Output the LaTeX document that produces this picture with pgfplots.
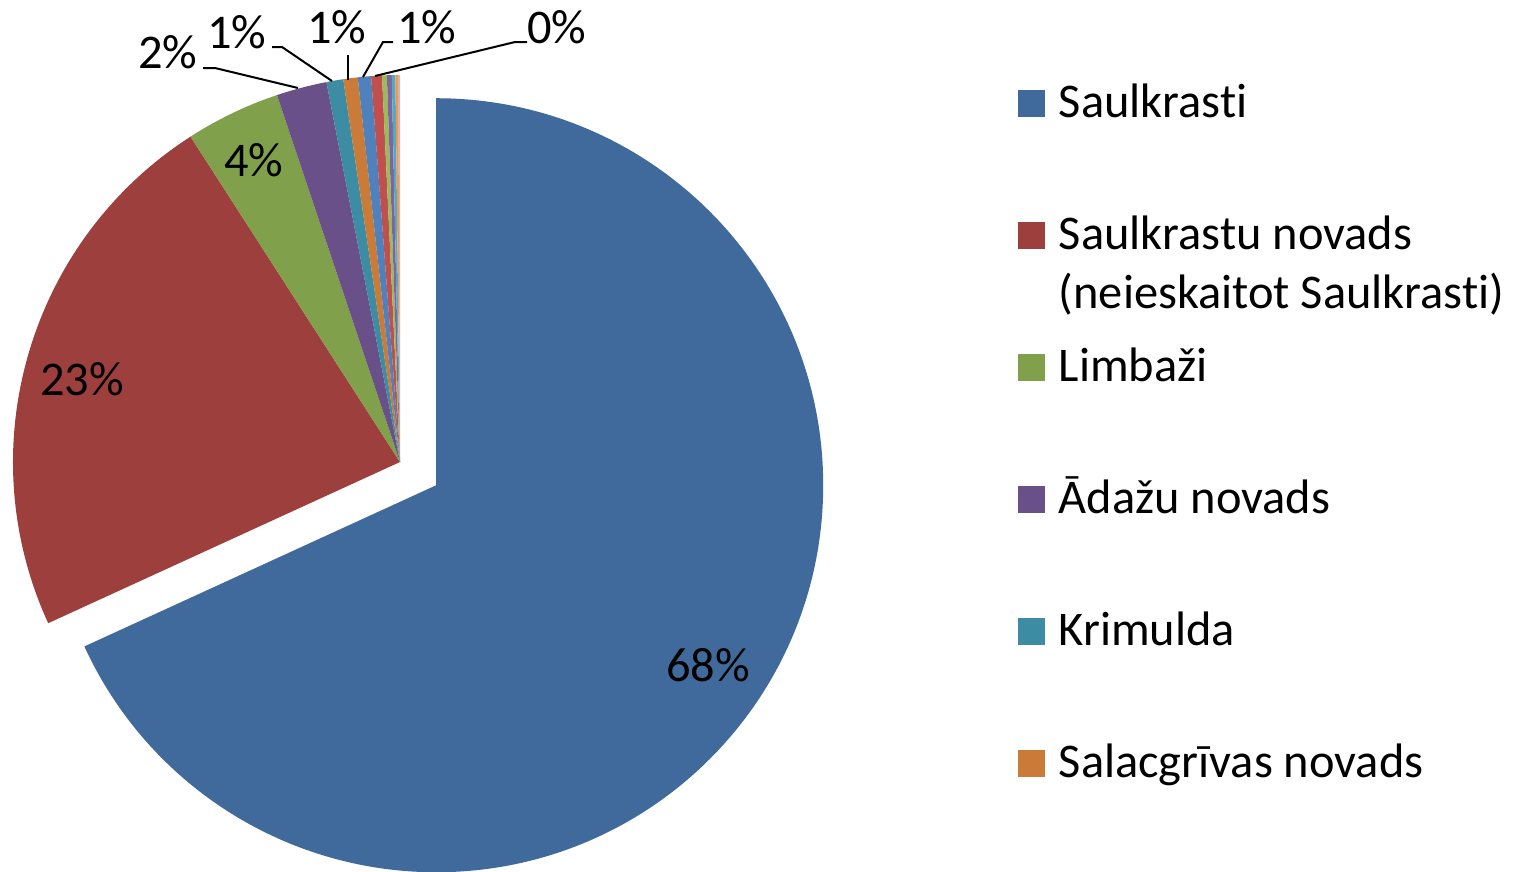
\documentclass[border=0pt]{standalone}
\usepackage{fontspec}
\setmainfont{Carlito}[Ligatures=NoCommon]
\usepackage{pgfplots}
\pgfplotsset{compat=1.18}

\definecolor{c1}{HTML}{416A9C}
\definecolor{c2}{HTML}{9D403D}
\definecolor{c3}{HTML}{80A04B}
\definecolor{c4}{HTML}{6A5088}
\definecolor{c5}{HTML}{3C8DA3}
\definecolor{c6}{HTML}{CB7B38}
\definecolor{c7}{HTML}{4F81BD}
\definecolor{c8}{HTML}{C0504D}
\definecolor{c9}{HTML}{9BBB59}
\definecolor{c10}{HTML}{8064A2}
\definecolor{c11}{HTML}{4BACC6}
\definecolor{c12}{HTML}{F79646}
\definecolor{c13}{HTML}{95B3D7}
\definecolor{c14}{HTML}{D99694}

\newcommand\lbl{\fontsize{12.1pt}{14.5pt}\selectfont}

\begin{document}
\begin{tikzpicture}
\begin{axis}[
  width=378.75pt, height=217.75pt, scale only axis,
  xmin=0, xmax=1515, ymin=0, ymax=871,
  axis lines=none, ticks=none, clip=false,
]
% keep the full canvas
\path (axis cs:0,0) rectangle (axis cs:1515,871);

% pie slices: value / colour / explode (pt)
\def\total{99.85}
\def\cum{0}
\foreach \v/\c/\e in {68.06/c1/10.75, 22.7/c2/0, 3.95/c3/0, 2.1/c4/0,
    0.7/c5/0, 0.6/c6/0, 0.55/c7/0, 0.45/c8/0, 0.2/c9/0, 0.2/c10/0,
    0.15/c11/0, 0.12/c12/0, 0.04/c13/0, 0.03/c14/0} {
  \pgfmathsetmacro\a{90-(360/\total)*\cum}
  \pgfmathsetmacro\b{90-(360/\total)*(\cum+\v)}
  \pgfmathsetmacro\m{(\a+\b)/2}
  \edef\tmp{\noexpand\fill[\c, overlay] (axis cs:400,409) ++(\m:\e pt) -- ++(\a:96.75pt)
    arc[start angle=\a, end angle=\b, radius=96.75pt] -- cycle;}
  \tmp
  \pgfmathsetmacro\newcum{\cum+\v}
  \global\let\cum\newcum
}

% data labels
\node[anchor=base, inner sep=0pt, font=\lbl] at (axis cs:708,190) {68\%};
\node[anchor=base, inner sep=0pt, font=\lbl] at (axis cs:82,476) {23\%};
\node[anchor=base, inner sep=0pt, font=\lbl] at (axis cs:254,695) {4\%};
\node[anchor=base, inner sep=0pt, font=\lbl] at (axis cs:168,803) {2\%};
\node[anchor=base, inner sep=0pt, font=\lbl] at (axis cs:237,823) {1\%};
\node[anchor=base, inner sep=0pt, font=\lbl] at (axis cs:337,828) {1\%};
\node[anchor=base, inner sep=0pt, font=\lbl] at (axis cs:427,828) {1\%};
\node[anchor=base, inner sep=0pt, font=\lbl] at (axis cs:557,828) {0\%};

% leader lines
\draw[black, line width=0.5pt] (axis cs:203,803) -- (axis cs:215,803) -- (axis cs:298,783);
\draw[black, line width=0.5pt] (axis cs:272,824) -- (axis cs:282,824) -- (axis cs:332,790);
\draw[black, line width=0.5pt] (axis cs:348,816) -- (axis cs:348,791);
\draw[black, line width=0.5pt] (axis cs:393,829) -- (axis cs:383,829) -- (axis cs:363,794);
\draw[black, line width=0.5pt] (axis cs:527,829) -- (axis cs:515,829) -- (axis cs:375,795);

% legend
\fill[c1] (axis cs:1018,754) rectangle (axis cs:1045,781);
\fill[c2] (axis cs:1018,622) rectangle (axis cs:1045,649);
\fill[c3] (axis cs:1018,490) rectangle (axis cs:1045,517);
\fill[c4] (axis cs:1018,358) rectangle (axis cs:1045,385);
\fill[c5] (axis cs:1018,226) rectangle (axis cs:1045,253);
\fill[c6] (axis cs:1018,94) rectangle (axis cs:1045,121);
\node[anchor=base west, inner sep=0pt, font=\lbl] at (axis cs:1058,754) {Saulkrasti};
\node[anchor=base west, inner sep=0pt, font=\lbl] at (axis cs:1058,622) {Saulkrastu novads};
\node[anchor=base west, inner sep=0pt, font=\lbl] at (axis cs:1058,563) {(neieskaitot Saulkrasti)};
\node[anchor=base west, inner sep=0pt, font=\lbl] at (axis cs:1058,490) {Limbaži};
\node[anchor=base west, inner sep=0pt, font=\lbl] at (axis cs:1058,358) {Ādažu novads};
\node[anchor=base west, inner sep=0pt, font=\lbl] at (axis cs:1058,226) {Krimulda};
\node[anchor=base west, inner sep=0pt, font=\lbl] at (axis cs:1058,94) {Salacgrīvas novads};
\end{axis}
\end{tikzpicture}
\end{document}
